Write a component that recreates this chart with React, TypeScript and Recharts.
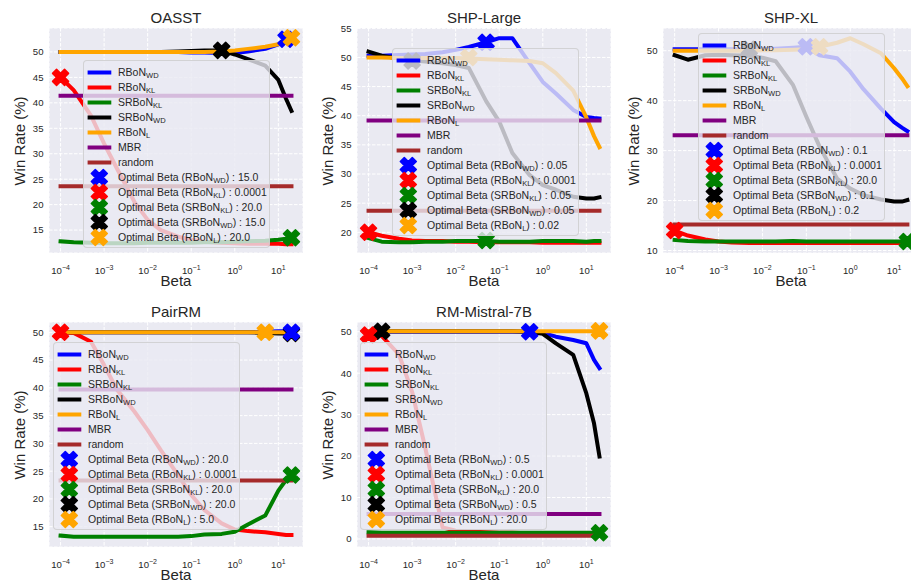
import { ComposedChart, Line, Scatter, XAxis, YAxis, CartesianGrid } from 'recharts'

// beta grid used by every run
const BETAS = [0.0001, 0.0002, 0.0005, 0.001, 0.002, 0.005, 0.01, 0.02, 0.05, 0.1, 0.2, 0.5, 1, 2, 5, 10, 15, 20]
const X_TICKS = [1e-4, 1e-3, 1e-2, 1e-1, 1, 10]
const X_DOMAIN = [5.43e-5, 36.8]

const METHOD_NAMES = ['RBoN', 'RBoN', 'SRBoN', 'SRBoN', 'RBoN']
const METHOD_SUBS = ['WD', 'KL', 'KL', 'WD', 'L']
const METHOD_COLORS = ['#0000ff', '#ff0000', '#008000', '#000000', '#ffa500']
const MBR_COLOR = '#800080'
const RANDOM_COLOR = '#a52a2a'

// OASST
const OASST_Y_TICKS = [15, 20, 25, 30, 35, 40, 45, 50]
const OASST_RBON_WD = [50, 50, 50, 50, 50, 50, 50, 50, 50, 49.9, 49.9, 49.8, 49.8, 50.1, 50.6, 51.5, 52.5, 52.6]
const OASST_RBON_KL = [45.0, 42.5, 37.5, 32.0, 27.0, 20.5, 17.0, 15.0, 13.7, 13.1, 12.7, 12.5, 12.4, 12.3, 12.3, 12.3, 12.2, 12.2]
const OASST_SRBON_KL = [12.8, 12.6, 12.5, 12.4, 12.4, 12.4, 12.5, 12.5, 12.5, 12.5, 12.6, 12.6, 12.7, 12.8, 12.9, 13.1, 13.3, 13.5]
const OASST_SRBON_WD = [50, 50, 50, 50, 50, 50, 50, 50, 50.1, 50.2, 50.3, 50.3, 49.5, 48.6, 47.3, 44.5, 40.8, 38.4]
const OASST_RBON_L = [50, 50, 50, 50, 50, 50, 50, 50, 50, 50, 50, 50.1, 50.3, 50.6, 51.0, 51.5, 52.2, 52.7]
const OASST_MBR = 41.4
const OASST_RANDOM = 23.6
const OASST_OPT_AT = [15, 0.0001, 20, 0.5, 20]
const OASST_OPT_WIN = [52.5, 45.0, 13.5, 50.3, 52.8]
const OASST_OPT_BETA = [15, 0.0001, 20, 15, 20]

// SHP-Large
const SHPL_Y_TICKS = [20, 25, 30, 35, 40, 45, 50, 55]
const SHPL_RBON_WD = [50.3, 50.3, 50.4, 50.5, 50.6, 50.9, 51.3, 51.8, 52.6, 53.3, 53.3, 49.0, 45.8, 43.8, 41.0, 39.8, 39.6, 39.5]
const SHPL_RBON_KL = [20.0, 19.4, 18.9, 18.6, 18.5, 18.5, 18.4, 18.4, 18.3, 18.3, 18.3, 18.3, 18.2, 18.2, 18.2, 18.2, 18.2, 18.2]
const SHPL_SRBON_KL = [19.0, 18.4, 18.3, 18.3, 18.4, 18.4, 18.5, 18.5, 18.5, 18.4, 18.4, 18.4, 18.5, 18.5, 18.5, 18.4, 18.5, 18.5]
const SHPL_SRBON_WD = [51.0, 50.3, 49.8, 49.5, 49.3, 49.0, 48.7, 48.2, 42.5, 39.0, 33.6, 29.8, 28.1, 27.3, 26.1, 25.8, 25.8, 26.0]
const SHPL_RBON_L = [50.0, 50.0, 49.9, 49.9, 49.9, 49.9, 49.9, 49.8, 49.7, 49.6, 49.5, 49.4, 49.0, 47.3, 44.3, 39.7, 36.5, 34.6]
const SHPL_MBR = 39.2
const SHPL_RANDOM = 23.7
const SHPL_OPT_AT = [0.05, 0.0001, 0.05, 0.001, 0.02]
const SHPL_OPT_WIN = [52.6, 20.0, 18.6, 49.4, 50.0]
const SHPL_OPT_BETA = [0.05, 0.0001, 0.05, 0.05, 0.02]

// SHP-XL
const SHPXL_Y_TICKS = [10, 20, 30, 40, 50]
const SHPXL_RBON_WD = [50.3, 50.3, 50.3, 50.3, 50.3, 50.3, 50.3, 50.4, 50.6, 50.8, 49.1, 48.5, 45.8, 42.3, 38.4, 35.7, 34.6, 33.9]
const SHPXL_RBON_KL = [14.0, 13.0, 12.2, 11.8, 11.6, 11.5, 11.5, 11.5, 11.5, 11.5, 11.5, 11.5, 11.5, 11.5, 11.5, 11.5, 11.5, 11.5]
const SHPXL_SRBON_KL = [12.1, 11.9, 11.8, 11.8, 11.8, 11.8, 11.8, 11.8, 11.9, 11.8, 11.8, 11.8, 11.8, 11.8, 11.8, 11.8, 11.8, 11.8]
const SHPXL_SRBON_WD = [49.1, 48.2, 49.1, 49.2, 49.1, 49.0, 48.6, 47.9, 43.1, 36.8, 30.8, 24.4, 22.4, 21.1, 20.2, 19.8, 19.8, 20.1]
const SHPXL_RBON_L = [50.0, 50.0, 50.0, 50.0, 50.0, 50.0, 50.1, 50.1, 50.2, 50.3, 50.8, 51.6, 52.5, 51.3, 49.5, 46.5, 44.5, 42.9]
const SHPXL_MBR = 33.1
const SHPXL_RANDOM = 15.2
const SHPXL_OPT_AT = [0.1, 0.0001, 20, 0.005, 0.2]
const SHPXL_OPT_WIN = [50.8, 14.0, 11.8, 50.3, 50.8]
const SHPXL_OPT_BETA = [0.1, 0.0001, 20, 0.1, 0.2]

// PairRM
const PAIR_Y_TICKS = [15, 20, 25, 30, 35, 40, 45, 50]
const PAIR_RBON_WD = [50, 50, 50, 50, 50, 50, 50, 50, 50, 50, 50, 50, 50, 50, 50.1, 50.2, 50.2, 50.2]
const PAIR_RBON_KL = [50.0, 49.9, 48.3, 44.1, 39.6, 35.7, 32.4, 28.8, 24.3, 20.7, 18.0, 15.6, 14.5, 14.2, 14.0, 13.7, 13.5, 13.5]
const PAIR_SRBON_KL = [13.4, 13.2, 13.2, 13.2, 13.2, 13.2, 13.2, 13.2, 13.2, 13.3, 13.6, 13.7, 14.1, 15.4, 17.0, 21.5, 23.4, 24.3]
const PAIR_SRBON_WD = [50, 50, 50, 50, 50, 50, 50, 50, 50, 50, 50, 50, 50, 50, 49.9, 49.8, 49.8, 49.8]
const PAIR_RBON_L = [50, 50, 50, 50, 50, 50, 50, 50, 50, 50, 50, 50, 50, 50, 50, 50, 50, 50]
const PAIR_MBR = 39.7
const PAIR_RANDOM = 23.3
const PAIR_OPT_AT = [20, 0.0001, 20, 20, 5]
const PAIR_OPT_WIN = [50.0, 50.0, 24.3, 49.8, 50.0]
const PAIR_OPT_BETA = [20, 0.0001, 20, 20, 5]

// RM-Mistral-7B
const MIS_Y_TICKS = [0, 10, 20, 30, 40, 50]
const MIS_RBON_WD = [50, 50, 50, 50, 50, 50, 50, 50, 50, 50, 50, 50, 49.7, 48.8, 48.0, 47.2, 43.2, 41.2]
const MIS_RBON_KL = [49.2, 49.0, 44.5, 35.5, 22.0, 2.8, 2.0, 1.8, 1.6, 1.5, 1.5, 1.4, 1.4, 1.3, 1.3, 1.3, 1.2, 1.2]
const MIS_SRBON_KL = [1.6, 1.5, 1.5, 1.5, 1.5, 1.5, 1.5, 1.5, 1.5, 1.5, 1.5, 1.5, 1.5, 1.5, 1.5, 1.5, 1.5, 1.5]
const MIS_SRBON_WD = [50.0, 50.1, 50.1, 50.1, 50.1, 50.1, 50.1, 50.1, 50.1, 50.1, 50.1, 50.0, 49.5, 47.2, 44.4, 35.1, 27.9, 19.9]
const MIS_RBON_L = [50.1, 50.1, 50.1, 50.1, 50.1, 50.1, 50.1, 50.1, 50.1, 50.1, 50.1, 50.1, 50.1, 50.1, 50.1, 50.1, 50.1, 50.1]
const MIS_MBR = 6.0
const MIS_RANDOM = 0.8
const MIS_OPT_AT = [0.5, 0.0001, 20, 0.0002, 20]
const MIS_OPT_WIN = [50.0, 49.2, 1.5, 50.1, 50.2]
const MIS_OPT_BETA = [0.5, 0.0001, 20, 0.5, 20]

const PANELS = [
  { title: 'OASST', x: 49, y: 28, w: 254, h: 225, yDomain: [10.5, 54.7], yTicks: OASST_Y_TICKS,
    series: [OASST_RBON_WD, OASST_RBON_KL, OASST_SRBON_KL, OASST_SRBON_WD, OASST_RBON_L],
    mbr: OASST_MBR, random: OASST_RANDOM, optAt: OASST_OPT_AT, optWin: OASST_OPT_WIN, optBeta: OASST_OPT_BETA, legend: [83, 60] },
  { title: 'SHP-Large', x: 357, y: 28, w: 254, h: 225, yDomain: [16.45, 55.05], yTicks: SHPL_Y_TICKS,
    series: [SHPL_RBON_WD, SHPL_RBON_KL, SHPL_SRBON_KL, SHPL_SRBON_WD, SHPL_RBON_L],
    mbr: SHPL_MBR, random: SHPL_RANDOM, optAt: SHPL_OPT_AT, optWin: SHPL_OPT_WIN, optBeta: SHPL_OPT_BETA, legend: [392, 48] },
  { title: 'SHP-XL', x: 663, y: 28, w: 256, h: 225, yDomain: [9.5, 54.55], yTicks: SHPXL_Y_TICKS,
    series: [SHPXL_RBON_WD, SHPXL_RBON_KL, SHPXL_SRBON_KL, SHPXL_SRBON_WD, SHPXL_RBON_L],
    mbr: SHPXL_MBR, random: SHPXL_RANDOM, optAt: SHPXL_OPT_AT, optWin: SHPXL_OPT_WIN, optBeta: SHPXL_OPT_BETA, legend: [698, 33] },
  { title: 'PairRM', x: 49, y: 322, w: 254, h: 225, yDomain: [11.34, 51.86], yTicks: PAIR_Y_TICKS,
    series: [PAIR_RBON_WD, PAIR_RBON_KL, PAIR_SRBON_KL, PAIR_SRBON_WD, PAIR_RBON_L],
    mbr: PAIR_MBR, random: PAIR_RANDOM, optAt: PAIR_OPT_AT, optWin: PAIR_OPT_WIN, optBeta: PAIR_OPT_BETA, legend: [53, 342] },
  { title: 'RM-Mistral-7B', x: 357, y: 322, w: 254, h: 225, yDomain: [-1.93, 52.34], yTicks: MIS_Y_TICKS,
    series: [MIS_RBON_WD, MIS_RBON_KL, MIS_SRBON_KL, MIS_SRBON_WD, MIS_RBON_L],
    mbr: MIS_MBR, random: MIS_RANDOM, optAt: MIS_OPT_AT, optWin: MIS_OPT_WIN, optBeta: MIS_OPT_BETA, legend: [360, 342] },
]

const TEXT = '#262626'
const FONT = '"Liberation Sans", Arial, sans-serif'
// matplotlib's filled 'X' marker outline
const X_PATH = [[-1, -2], [0, -1], [1, -2], [2, -1], [1, 0], [2, 1], [1, 2], [0, 1], [-1, 2], [-2, 1], [-1, 0], [-2, -1]]
// draw black/red/green first so blue & orange sit on top where they coincide
const MARKER_ORDER = [3, 1, 2, 0, 4]

function XMark({ cx, cy, color, size = 16 }: { cx: number; cy: number; color: string; size?: number }) {
  const k = size / 4
  const pts = X_PATH.map(([a, b]) => `${cx + a * k},${cy + b * k}`).join(' ')
  return <polygon points={pts} fill={color} stroke={color} strokeWidth={1.5} strokeLinejoin="round" />
}

function fmtBeta(v: number) {
  return Number.isInteger(v) ? v.toFixed(1) : String(v)
}

function MethodLabel({ i }: { i: number }) {
  return (
    <>
      {METHOD_NAMES[i]}
      <span style={{ fontSize: '72%', position: 'relative', top: '0.3em' }}>{METHOD_SUBS[i]}</span>
    </>
  )
}

function LegendRow({ color, marker, children }: { color: string; marker?: boolean; children: any }) {
  return (
    <div style={{ display: 'flex', alignItems: 'center', height: 15 }}>
      <svg width={34} height={15} style={{ overflow: 'visible', flex: 'none' }}>
        {marker ? (
          <XMark cx={15.3} cy={7.5} color={color} />
        ) : (
          <line x1={3.6} x2={27.3} y1={7.5} y2={7.5} stroke={color} strokeWidth={4} />
        )}
      </svg>
      <span style={{ whiteSpace: 'nowrap' }}>{children}</span>
    </div>
  )
}

function LegendBox({ p }: { p: any }) {
  return (
    <div
      style={{
        position: 'absolute', left: p.legend[0], top: p.legend[1], width: 187,
        padding: '4px 0 2px', boxSizing: 'border-box',
        background: 'rgba(234,234,242,0.8)', border: '1px solid rgba(204,204,204,0.8)', borderRadius: 4,
        fontSize: 10.5, color: TEXT, lineHeight: '15px',
      }}
    >
      {METHOD_COLORS.map((c, i) => (
        <LegendRow key={'l' + i} color={c}><MethodLabel i={i} /></LegendRow>
      ))}
      <LegendRow color={MBR_COLOR}>MBR</LegendRow>
      <LegendRow color={RANDOM_COLOR}>random</LegendRow>
      {METHOD_COLORS.map((c, i) => (
        <LegendRow key={'m' + i} color={c} marker>
          Optimal Beta (<MethodLabel i={i} />) : {fmtBeta(p.optBeta[i])}
        </LegendRow>
      ))}
    </div>
  )
}

function Panel({ p }: { p: any }) {
  const W = 60 + p.w + 2
  const H = 30 + p.h + 45
  const bottom = 30 + p.h
  const toPoints = (vals: number[]) => BETAS.map((b, j) => ({ beta: b, v: vals[j] }))
  const flat = (v: number) => [{ beta: BETAS[0], v }, { beta: BETAS[BETAS.length - 1], v }]
  const lineProps = {
    dataKey: 'v', type: 'linear' as const, strokeWidth: 4, dot: false, activeDot: false,
    isAnimationActive: false, strokeLinejoin: 'round' as const, strokeLinecap: 'square' as const,
  }

  return (
    <>
      <div style={{ position: 'absolute', left: p.x - 60, top: p.y - 30 }}>
        <ComposedChart width={W} height={H} margin={{ top: 30, right: 2, bottom: 0, left: 0 }}>
          <CartesianGrid fill="#eaeaf2" stroke="#ffffff" strokeDasharray="3.5 1.5" strokeWidth={1} />
          <XAxis
            dataKey="beta" type="number" scale="log" domain={X_DOMAIN} ticks={X_TICKS} allowDataOverflow
            axisLine={false} tickLine={false} height={45} interval={0}
            tick={(t: any) => {
              const e = Math.round(Math.log10(t.payload.value))
              return (
                <text x={t.x} y={bottom + 21} textAnchor="middle" fontSize={9.6} fill={TEXT}>
                  10<tspan dy={-4} fontSize={7}>{e < 0 ? '\u2212' + -e : String(e)}</tspan>
                </text>
              )
            }}
          />
          <YAxis
            type="number" domain={p.yDomain} ticks={p.yTicks} allowDataOverflow
            axisLine={false} tickLine={false} width={60} interval={0}
            tick={(t: any) => (
              <text x={54.5} y={t.y} dy={3.4} textAnchor="end" fontSize={9.6} fill={TEXT}>{t.payload.value}</text>
            )}
          />
          {p.series.map((s: number[], i: number) => (
            <Line key={'s' + i} data={toPoints(s)} stroke={METHOD_COLORS[i]} {...lineProps} />
          ))}
          <Line data={flat(p.mbr)} stroke={MBR_COLOR} {...lineProps} />
          <Line data={flat(p.random)} stroke={RANDOM_COLOR} {...lineProps} />
          {MARKER_ORDER.map((i) => (
            <Scatter
              key={'x' + i}
              data={[{ beta: p.optAt[i], v: p.optWin[i] }]}
              dataKey="v"
              isAnimationActive={false}
              shape={(s: any) => <XMark cx={s.cx} cy={s.cy} color={METHOD_COLORS[i]} />}
            />
          ))}
        </ComposedChart>
      </div>
      <div style={{ position: 'absolute', left: p.x, width: p.w, top: p.y - 18, textAlign: 'center', fontSize: 15, lineHeight: '15px', color: TEXT }}>
        {p.title}
      </div>
      <div style={{ position: 'absolute', left: p.x, width: p.w, top: p.y + p.h + 20, textAlign: 'center', fontSize: 15, lineHeight: '15px', color: TEXT }}>
        Beta
      </div>
      <div
        style={{
          position: 'absolute', left: p.x - 30, top: p.y + p.h / 2, transform: 'translate(-50%, -50%) rotate(-90deg)',
          whiteSpace: 'nowrap', fontSize: 15, lineHeight: '15px', color: TEXT,
        }}
      >
        Win Rate (%)
      </div>
      <LegendBox p={p} />
    </>
  )
}

export default function App() {
  return (
    <div style={{ position: 'absolute', left: 0, top: 0, width: 911, height: 580, overflow: 'hidden', background: '#fff', fontFamily: FONT }}>
      {PANELS.map((p) => (
        <Panel key={p.title} p={p} />
      ))}
    </div>
  )
}
